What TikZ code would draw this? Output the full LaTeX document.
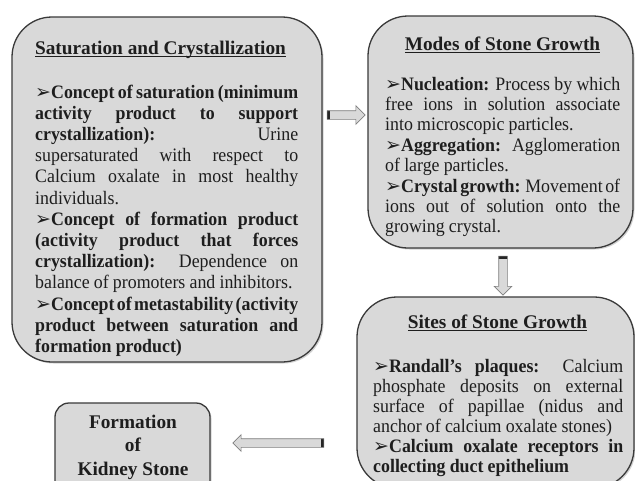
\documentclass[tikz,border=0pt]{standalone}
\usepackage{fontspec}
\setmainfont{Liberation Serif}[FakeStretch=0.94]
\newfontfamily\titlefont{Liberation Serif}
\newfontfamily\arrowfont{DejaVu Sans}
\usetikzlibrary{shapes.arrows,shadows}
\definecolor{boxfill}{HTML}{D9D9D9}
\definecolor{boxline}{HTML}{3A3A3A}
\definecolor{arrowline}{HTML}{7F7F7F}
\definecolor{tailcolor}{HTML}{262626}
\definecolor{inkcolor}{HTML}{1E1E1E}
\newcommand{\itemmark}{{\arrowfont\fontsize{19}{19}\selectfont ➢}}
\newcommand{\boxtitle}[1]{\setbox0\hbox{\bfseries #1}\rlap{\rule[-2.6pt]{\wd0}{1.1pt}}\box0}
\hbadness=10000
\hfuzz=20pt
\tolerance=10000
\hyphenpenalty=10000
\exhyphenpenalty=10000

\begin{document}
\begin{tikzpicture}[x=1pt, y=-1pt,
    stagebox/.style={draw=boxline, line width=1.3pt, fill=boxfill, rounded corners=40pt,
      drop shadow={shadow xshift=1.5pt, shadow yshift=-1.5pt, opacity=0.35}},
    titletext/.style={anchor=base, inner sep=0pt, text=inkcolor,
      font=\titlefont\fontsize{19.3}{21}\selectfont},
    bodytext/.style={anchor=base west, inner sep=0pt, align=justify, text=inkcolor,
      font={\fontsize{19}{#1}\selectfont\spaceskip=0.22em plus 3em minus 0.15em},
      execute at begin node={\parindent=0pt}},
    blockarrow/.style={single arrow, draw=arrowline, fill=boxfill, line width=0.6pt,
      single arrow head indent=0pt}]

  \useasboundingbox (0,0) rectangle (635,480);
  \clip (0,0) rectangle (635,480);
  \fill[white] (0,0) rectangle (635,480);

  % Boxes
  \node[stagebox, minimum width=310pt, minimum height=345pt] (sat) at (167,189.5) {};
  \node[stagebox, minimum width=265pt, minimum height=232pt] (modes) at (500.5,132) {};
  \node[stagebox, minimum width=277pt, minimum height=191pt] (sites) at (495.5,392.5) {};
  \node[stagebox, rounded corners=14pt, minimum width=155pt, minimum height=92pt] (stone) at (132.5,449) {};

  % Saturation and Crystallization
  \node[titletext] (sattitle) at (160.5,54) {\boxtitle{Saturation and Crystallization}};
  \node[bodytext=21.2pt, text width=263pt] (satbody) at (35,98) {%
    {\bfseries\itemmark Concept of saturation (minimum\linebreak activity product to support\linebreak crystallization):} Urine\linebreak supersaturated with respect to\linebreak Calcium oxalate in most healthy\linebreak individuals.\par
    {\bfseries\itemmark Concept of formation product\linebreak (activity product that forces\linebreak crystallization):} Dependence on\linebreak balance of promoters and inhibitors.\par
    {\bfseries\itemmark Concept of metastability (activity\linebreak product between saturation and\linebreak formation product)}};

  % Modes of Stone Growth
  \node[titletext] (modestitle) at (502.5,50) {\boxtitle{Modes of Stone Growth}};
  \node[bodytext=20.4pt, text width=235pt] (modesbody) at (385,90) {%
    {\bfseries\itemmark Nucleation:} Process by which\linebreak free ions in solution associate\linebreak into microscopic particles.\par
    {\bfseries\itemmark Aggregation:} Agglomeration\linebreak of large particles.\par
    {\bfseries\itemmark Crystal growth:} Movement of\linebreak ions out of solution onto the\linebreak growing crystal.};

  % Sites of Stone Growth
  \node[titletext] (sitestitle) at (497.5,328) {\boxtitle{Sites of Stone Growth}};
  \node[bodytext=20pt, text width=250pt] (sitesbody) at (373,372) {%
    {\bfseries\itemmark Randall’s plaques:} Calcium\linebreak phosphate deposits on external\linebreak surface of papillae (nidus and\linebreak anchor of calcium oxalate stones)\par
    {\bfseries\itemmark Calcium oxalate receptors in\linebreak collecting duct epithelium}};

  % Formation of Kidney Stone
  \node[titletext, align=center, font=\titlefont\fontsize{19.3}{23.5}\selectfont\bfseries] (stonetext) at (133,475) {Formation\\of\\Kidney Stone};

  % Block arrows
  \node[blockarrow, inner xsep=0pt, inner ysep=4pt, minimum height=38pt, single arrow head extend=5pt,
    path picture={\fill[tailcolor] (path picture bounding box.south west) rectangle ([xshift=3pt]path picture bounding box.north west);}]
    (satmodes) at (344,115) {};
  \node[blockarrow, inner xsep=4pt, inner ysep=0pt, minimum height=39pt, single arrow head extend=4.5pt, shape border rotate=270,
    path picture={\fill[tailcolor] (path picture bounding box.north west) rectangle ([yshift=-3pt]path picture bounding box.north east);}]
    (modessites) at (503,273.5) {};
  \node[blockarrow, inner xsep=0pt, inner ysep=4pt, minimum height=91pt, single arrow head extend=4pt, shape border rotate=180,
    path picture={\fill[tailcolor] (path picture bounding box.north east) rectangle ([xshift=-3pt]path picture bounding box.south east);}]
    (sitesstone) at (280.5,443) {};
\end{tikzpicture}
\end{document}
